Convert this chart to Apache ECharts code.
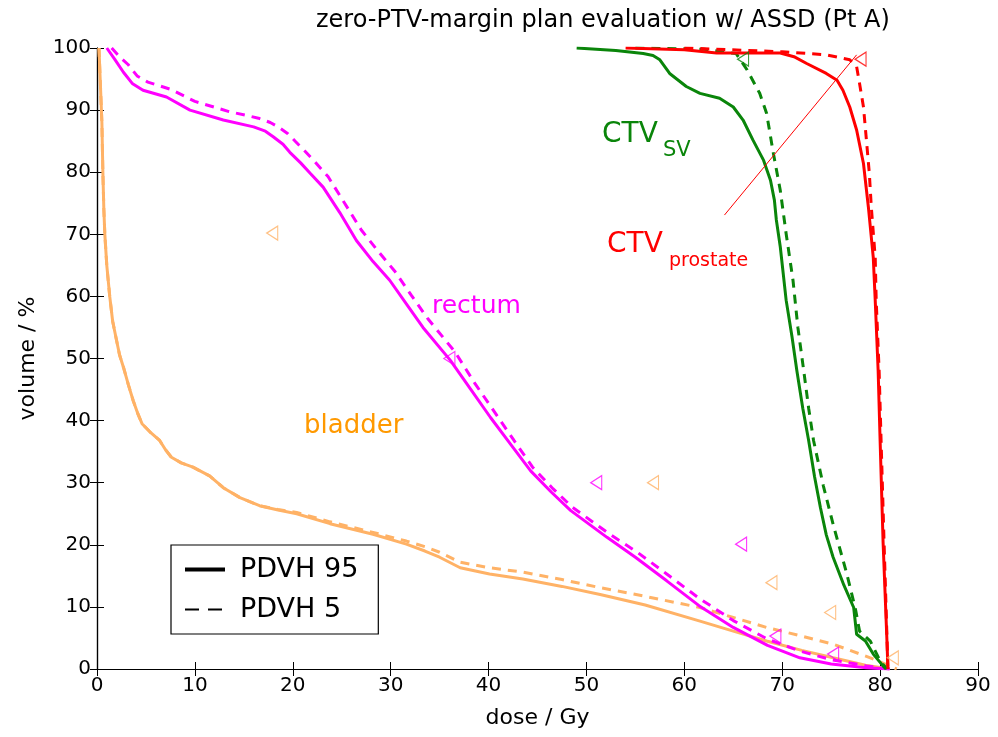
<!DOCTYPE html>
<html>
<head>
<meta charset="utf-8">
<script src="https://cdn.jsdelivr.net/npm/echarts@6/dist/echarts.min.js"></script>
<style>
html,body{margin:0;padding:0;background:#fff;}
#chart{width:998px;height:737px;}
</style>
</head>
<body>
<div id="chart"></div>
<script>
// ---- data (dose Gy, volume %) ----
var xTicks = [0,10,20,30,40,50,60,70,80,90];
var yTicks = [0,10,20,30,40,50,60,70,80,90,100];

var bladder95 = [[0.2,100],[0.4,92],[0.5,88],[0.6,80],[0.7,74],[0.8,70],[1.0,65],[1.3,60],[1.6,56],[2.0,52.9],[2.3,50.6],[2.7,48.6],[3.2,45.8],[3.7,43.2],[4.2,41.0],[4.6,39.5],[5.4,38.2],[6.4,36.8],[7.0,35.3],[7.6,34.1],[8.6,33.2],[9.8,32.5],[11.5,31.1],[12.9,29.2],[14.6,27.6],[16.6,26.3],[18.5,25.6],[20.4,25.0],[23.8,23.4],[28.2,21.7],[31.6,20.1],[33.5,19.0],[35.0,18.0],[37.1,16.3],[40.1,15.3],[43.5,14.5],[47.5,13.3],[51.4,12.0],[56.0,10.3],[61.6,7.7],[65.0,6.1],[68.4,4.5],[72.0,3.0],[75.2,1.8],[78.5,0.6],[81.0,0]];
var bladder5 = [[0.2,100],[0.4,92],[0.5,88],[0.6,80],[0.7,74],[0.8,70],[1.0,65],[1.3,60],[1.6,56],[2.0,52.9],[2.3,50.6],[2.7,48.6],[3.2,45.8],[3.7,43.2],[4.2,41.0],[4.6,39.5],[5.4,38.2],[6.4,36.8],[7.0,35.3],[7.6,34.1],[8.6,33.2],[9.8,32.5],[11.5,31.1],[12.9,29.2],[14.6,27.6],[16.6,26.3],[18.5,25.7],[20.4,25.2],[23.8,23.7],[28.2,22.0],[31.6,20.6],[33.5,19.7],[35.0,18.8],[37.1,17.2],[40.1,16.3],[43.5,15.6],[47.5,14.4],[51.4,13.1],[56.0,11.7],[61.6,9.9],[65.0,8.3],[68.4,6.7],[72.0,5.3],[75.2,4.0],[79.0,1.8],[81.7,0]];

var rectum95 = [[1.0,100],[1.8,98.2],[2.7,96.1],[3.6,94.3],[4.7,93.2],[7.1,92.1],[9.5,90.0],[12.9,88.4],[16.0,87.3],[17.2,86.6],[18.0,85.7],[19.0,84.5],[19.7,83.2],[20.8,81.5],[21.8,79.8],[23.1,77.6],[24.8,73.5],[26.5,69.0],[28.2,65.6],[29.9,62.6],[31.6,58.8],[33.3,55.0],[36.1,49.7],[38.2,45.0],[40.2,40.5],[42.3,36.1],[44.3,31.9],[46.4,28.5],[48.4,25.5],[52.1,21.2],[55.0,18.0],[58.2,14.2],[61.5,10.2],[65.0,6.7],[68.5,3.8],[71.8,1.8],[75.0,0.8],[78.6,0.2],[81.0,0]];
var rectum5 = [[1.5,100],[2.3,98.6],[3.2,97.3],[4.1,95.5],[5.2,94.5],[7.6,93.3],[10.0,91.4],[13.4,89.8],[16.5,88.7],[17.7,88.0],[18.5,87.3],[19.5,86.2],[20.3,84.9],[21.3,83.3],[22.3,81.6],[23.6,79.3],[25.3,75.0],[27.0,70.7],[28.7,67.3],[30.4,64.1],[32.1,60.2],[33.8,56.4],[36.6,51.0],[38.6,46.0],[40.6,41.4],[42.6,36.8],[44.5,32.5],[46.6,29.0],[48.6,26.0],[52.3,21.8],[55.2,18.8],[58.2,15.3],[61.5,11.4],[65.0,7.8],[68.5,4.8],[71.8,2.9],[75.0,1.5],[78.6,0.5],[81.0,0]];

var ctvSv95 = [[49.0,100],[53.0,99.6],[55.8,99.1],[56.8,98.8],[57.5,98.1],[58.5,95.9],[60.2,93.8],[61.6,92.7],[63.6,91.9],[65.0,90.5],[66.0,88.4],[67.0,85.2],[68.1,81.9],[68.8,78.7],[69.2,75.5],[69.4,72.3],[69.8,68.0],[70.1,63.7],[70.4,59.4],[71.0,53.5],[71.5,48.0],[72.1,42.0],[72.7,36.8],[73.3,31.0],[73.9,26.0],[74.5,21.6],[75.2,18.0],[76.3,13.5],[77.3,9.9],[77.6,5.6],[78.5,4.5],[79.3,2.4],[80.3,0.5],[80.6,0]];
var ctvSv5 = [[55.0,100],[62.0,99.8],[65.3,99.1],[66.4,96.5],[67.7,92.7],[68.4,89.5],[69.1,83.0],[69.8,77.1],[70.4,70.1],[71.1,62.6],[71.6,55.0],[72.2,48.0],[72.7,42.0],[73.2,36.8],[74.2,29.5],[75.2,23.3],[76.6,15.3],[77.5,9.5],[77.9,6.1],[79.0,4.5],[80.0,1.3],[80.7,0]];

var ctvPr95 = [[54.0,100],[60.0,99.7],[63.3,99.2],[69.8,99.2],[71.2,98.6],[72.5,97.5],[74.5,95.9],[75.6,94.8],[76.2,93.2],[76.9,90.5],[77.6,86.8],[78.3,81.4],[78.8,74.4],[79.3,66.3],[79.5,59.4],[79.8,48.0],[80.0,36.8],[80.3,20.6],[80.7,4.5],[80.8,0]];
var ctvPr5 = [[60.0,100],[70.0,99.4],[74.5,98.9],[76.9,98.1],[77.6,97.0],[77.9,94.3],[78.3,90.5],[78.6,85.2],[78.9,79.8],[79.1,74.4],[79.5,66.3],[79.6,59.4],[79.9,48.0],[80.1,36.8],[80.4,20.6],[80.8,0]];

var pointerLine = [[64.1,73.1],[77.6,98.9]];

var bladderTri = [[17.9,70.2],[56.8,30.0],[68.9,13.9],[74.9,9.1],[81.3,1.8]];
var rectumTri = [[36.0,50.0],[51.0,30.0],[65.8,20.1],[69.3,5.3],[75.2,2.4]];
var ctvSvTri = [[66.0,98.2]];
var ctvPrTri = [[78.0,98.2]];

var legendNames = ['PDVH 95', 'PDVH 5'];

// ---- styling ----
var FONT = 'DejaVu Sans';
var C_BLADDER = '#ffb266', C_BLADDER_TXT = '#ff9900';
var C_RECTUM = '#ff00ff', C_SV = '#0a850a', C_PR = '#ff0000';
var DASH = [9, 7];
var TRI = 'path://M10,0 L0,6 L10,12 Z';

function line(name, data, color, dashed, w) {
  return {
    type: 'line', name: name, data: data, symbol: 'none', smooth: false,
    lineStyle: { color: color, width: w || 3, type: dashed ? DASH : 'solid' },
    itemStyle: { color: color }, silent: true, z: 3
  };
}
function tri(data, color) {
  return {
    type: 'scatter', data: data, symbol: TRI, symbolSize: [11, 14],
    itemStyle: { color: 'rgba(0,0,0,0)', borderColor: color, borderWidth: 1.2 }, z: 4, silent: true
  };
}

var chart = echarts.init(document.getElementById('chart'), null, { renderer: 'canvas' });
chart.setOption({
  animation: false,
  backgroundColor: '#fff',
  textStyle: { fontFamily: FONT },
  title: {
    text: 'zero-PTV-margin plan evaluation w/ ASSD (Pt A)', left: 311, top: 4,
    textStyle: { fontFamily: FONT, fontSize: 24, fontWeight: 'normal', color: '#000' }
  },
  grid: { left: 97, right: 20, top: 48, bottom: 68, containLabel: false },
  legend: {
    data: [
      { name: legendNames[0], lineStyle: { width: 4, type: 'solid' } },
      { name: legendNames[1], lineStyle: { width: 2, type: [14, 9] } }
    ],
    orient: 'vertical', left: 171, top: 545,
    backgroundColor: '#fff', borderColor: '#000', borderWidth: 1.2, borderRadius: 0,
    padding: [11, 20, 11, 12], itemWidth: 40, itemHeight: 14, itemGap: 13,
    itemStyle: { opacity: 0 },
    textStyle: { fontFamily: FONT, fontSize: 27, color: '#000', padding: [0, 0, 0, 10] }
  },
  xAxis: [
    { type: 'value', min: 0, max: 90, interval: 10, position: 'bottom',
      name: 'dose / Gy', nameLocation: 'middle', nameGap: 38,
      nameTextStyle: { fontFamily: FONT, fontSize: 22, color: '#000' },
      axisLine: { lineStyle: { color: '#000', width: 1.2 } },
      axisTick: { inside: true, length: 7, lineStyle: { color: '#000' } },
      axisLabel: { fontFamily: FONT, fontSize: 20, color: '#000', margin: 7,
        formatter: function (v) { return xTicks.indexOf(v) >= 0 ? String(v) : ''; } },
      splitLine: { show: false } },
    { type: 'value', min: 0, max: 90, interval: 10, position: 'top',
      axisLine: { lineStyle: { color: '#000', width: 1.2 } },
      axisTick: { inside: true, length: 7, lineStyle: { color: '#000' } },
      axisLabel: { show: false }, splitLine: { show: false } }
  ],
  yAxis: [
    { type: 'value', min: 0, max: 100, interval: 10, position: 'left',
      name: 'volume / %', nameLocation: 'middle', nameGap: 58,
      nameTextStyle: { fontFamily: FONT, fontSize: 22, color: '#000' },
      axisLine: { lineStyle: { color: '#000', width: 1.2 } },
      axisTick: { inside: true, length: 7, lineStyle: { color: '#000' } },
      axisLabel: { fontFamily: FONT, fontSize: 20, color: '#000', margin: 6,
        formatter: function (v) { return yTicks.indexOf(v) >= 0 ? String(v) : ''; } },
      splitLine: { show: false } },
    { type: 'value', min: 0, max: 100, interval: 10, position: 'right',
      axisLine: { lineStyle: { color: '#000', width: 1.2 } },
      axisTick: { inside: true, length: 7, lineStyle: { color: '#000' } },
      axisLabel: { show: false }, splitLine: { show: false } }
  ],
  series: [
    line('bladder95', bladder95, C_BLADDER, false),
    line('bladder5', bladder5, C_BLADDER, true),
    line('rectum95', rectum95, C_RECTUM, false),
    line('rectum5', rectum5, C_RECTUM, true),
    line('ctvSv95', ctvSv95, C_SV, false),
    line('ctvSv5', ctvSv5, C_SV, true),
    line('ctvPr95', ctvPr95, C_PR, false),
    line('ctvPr5', ctvPr5, C_PR, true),
    line('pointer', pointerLine, C_PR, false, 1),
    tri(bladderTri, C_BLADDER),
    tri(rectumTri, C_RECTUM),
    tri(ctvSvTri, C_SV),
    tri(ctvPrTri, C_PR),
    { type: 'line', name: legendNames[0], data: [], symbol: 'none', showSymbol: false, lineStyle: { color: '#000', width: 4 }, itemStyle: { color: '#000' } },
    { type: 'line', name: legendNames[1], data: [], symbol: 'none', showSymbol: false, lineStyle: { color: '#000', width: 2, type: [14, 9] }, itemStyle: { color: '#000' } }
  ],
  graphic: [
    { type: 'text', left: 602, top: 121, style: { text: 'CTV', fill: C_SV, font: '28px "DejaVu Sans"' } },
    { type: 'text', left: 663, top: 140, style: { text: 'SV', fill: C_SV, font: '21px "DejaVu Sans"' } },
    { type: 'text', left: 607, top: 231, style: { text: 'CTV', fill: C_PR, font: '28px "DejaVu Sans"' } },
    { type: 'text', left: 669, top: 252, style: { text: 'prostate', fill: C_PR, font: '19px "DejaVu Sans"' } },
    { type: 'text', left: 432, top: 294, style: { text: 'rectum', fill: C_RECTUM, font: '25px "DejaVu Sans"' } },
    { type: 'text', left: 304, top: 413, style: { text: 'bladder', fill: C_BLADDER_TXT, font: '26px "DejaVu Sans"' } }
  ]
});
</script>
</body>
</html>
